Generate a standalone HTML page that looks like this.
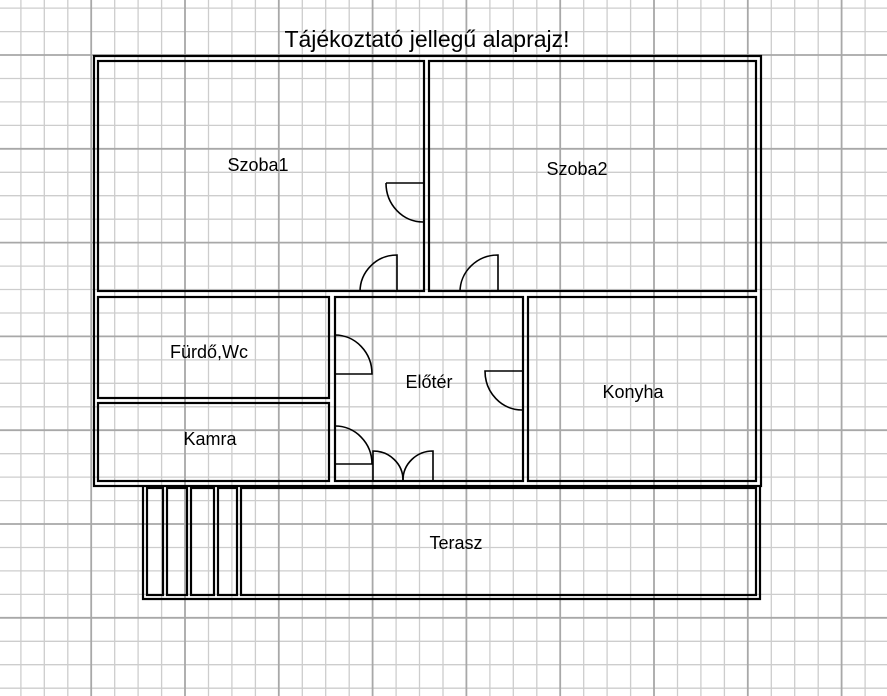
<!DOCTYPE html>
<html><head><meta charset="utf-8"><style>
html,body{margin:0;padding:0;background:#fff;}
svg{display:block;}
text{font-family:"Liberation Sans",sans-serif;fill:#000;}
</style></head><body>
<svg width="887" height="696" viewBox="0 0 887 696" xmlns="http://www.w3.org/2000/svg">
<rect width="887" height="696" fill="#fff"/>
<path fill="none" stroke="#cdcdcd" stroke-width="1.3" d="
M20.9 0V696 M44.3 0V696 M67.8 0V696 M114.7 0V696 M138.1 0V696 M161.6 0V696 M208.5 0V696 M231.9 0V696 M255.4 0V696 M302.3 0V696 M325.7 0V696 M349.2 0V696 M396.1 0V696 M419.5 0V696 M443 0V696 M489.9 0V696 M513.3 0V696 M536.8 0V696 M583.7 0V696 M607.1 0V696 M630.6 0V696 M677.5 0V696 M700.9 0V696 M724.4 0V696 M771.3 0V696 M794.7 0V696 M818.2 0V696 M865.1 0V696
M0 8.1H887 M0 31.6H887 M0 78.5H887 M0 101.9H887 M0 125.4H887 M0 172.3H887 M0 195.7H887 M0 219.2H887 M0 266.1H887 M0 289.5H887 M0 313H887 M0 359.9H887 M0 383.3H887 M0 406.8H887 M0 453.7H887 M0 477.1H887 M0 500.6H887 M0 547.5H887 M0 570.9H887 M0 594.4H887 M0 641.3H887 M0 664.7H887 M0 688.2H887"/>
<path fill="none" stroke="#a8a8a8" stroke-width="1.8" d="
M91.2 0V696 M185 0V696 M278.8 0V696 M372.6 0V696 M466.4 0V696 M560.2 0V696 M654 0V696 M747.8 0V696 M841.6 0V696
M0 55H887 M0 148.8H887 M0 242.6H887 M0 336.4H887 M0 430.2H887 M0 524H887 M0 617.8H887"/>
<g fill="none" stroke="#000" stroke-width="2.2">
 <path d="M143 486 V599 H760 V486"/>
 <rect x="94" y="56" width="667" height="430"/>
 <rect x="98" y="61" width="326" height="230"/>
 <rect x="429" y="61" width="327" height="230"/>
 <rect x="98" y="297" width="231" height="101"/>
 <rect x="98" y="403" width="231" height="78"/>
 <rect x="335" y="297" width="188" height="184"/>
 <rect x="528" y="297" width="228" height="184"/>
 <rect x="147" y="488" width="16" height="107"/>
 <rect x="167" y="488" width="20" height="107"/>
 <rect x="191" y="488" width="23" height="107"/>
 <rect x="218" y="488" width="19" height="107"/>
 <rect x="241" y="488" width="515" height="107"/>
</g>
<g fill="none" stroke="#000" stroke-width="1.6">
 <path d="M386 183 H423 M386 183 A37 39 0 0 0 423 222"/>
 <path d="M360 292 A37 37 0 0 1 397 255 V292"/>
 <path d="M460 292 A38 37 0 0 1 498 255 V292"/>
 <path d="M335 374 H372 A37 39 0 0 0 335 335"/>
 <path d="M335 464 H372 A37 38 0 0 0 335 426"/>
 <path d="M373 480 V451 A30 29 0 0 1 403 480"/>
 <path d="M433 480 V451 A30 29 0 0 0 403 480"/>
 <path d="M522 371 H485 A37 39 0 0 0 522 410"/>
</g>
<text x="427" y="47" font-size="23" text-anchor="middle">Tájékoztató jellegű alaprajz!</text>
<g font-size="18" text-anchor="middle">
 <text x="258" y="171">Szoba1</text>
 <text x="577" y="175">Szoba2</text>
 <text x="209" y="358">Fürdő,Wc</text>
 <text x="429" y="388">Előtér</text>
 <text x="633" y="398">Konyha</text>
 <text x="210" y="445">Kamra</text>
 <text x="456" y="549">Terasz</text>
</g>
</svg>
</body></html>
